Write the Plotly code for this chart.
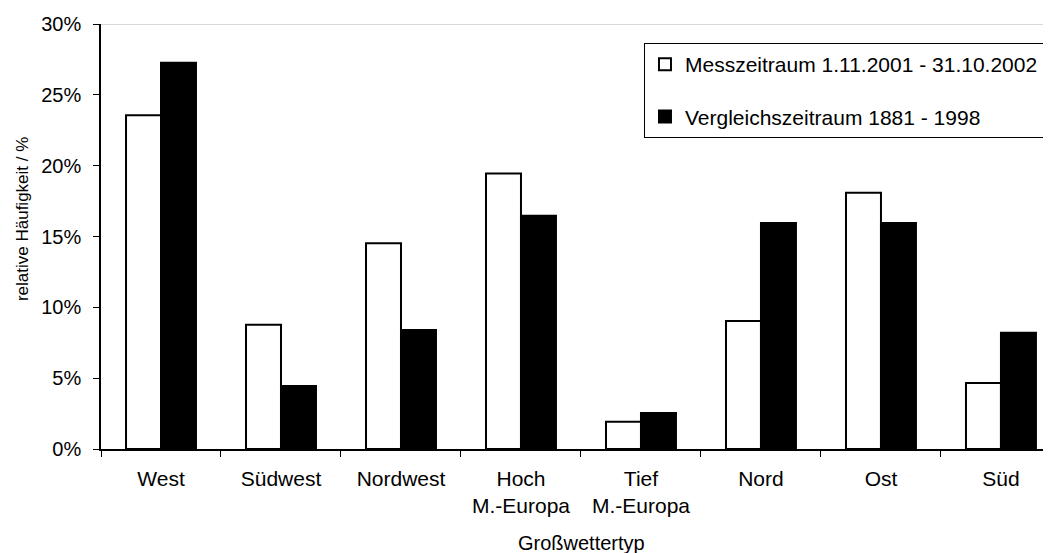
import plotly.graph_objects as go

categories = ["West", "Südwest", "Nordwest", "Hoch<br>M.-Europa", "Tief<br>M.-Europa", "Nord", "Ost", "Süd"]
mess_2001_2002 = [23.56, 8.77, 14.52, 19.45, 1.92, 9.04, 18.08, 4.66]
vergleich_1881_1998 = [27.27, 4.45, 8.40, 16.46, 2.54, 15.96, 15.96, 8.21]
y_ticks = [0, 5, 10, 15, 20, 25, 30]
y_tick_labels = [f"{v}%" for v in y_ticks]

FONT = "Liberation Sans, Arial, sans-serif"

fig = go.Figure()
fig.add_trace(go.Bar(
    x=categories, y=mess_2001_2002,
    name="Messzeitraum 1.11.2001 - 31.10.2002",
    marker=dict(color="white", line=dict(color="black", width=2)),
    legendgroup="a",
))
fig.add_trace(go.Bar(
    x=categories, y=vergleich_1881_1998,
    name="Vergleichszeitraum 1881 - 1998",
    marker=dict(color="black", line=dict(color="black", width=2)),
    legendgroup="b",
))

# grey top frame line of the plot area
fig.add_shape(type="line", xref="paper", yref="y", x0=0, x1=1, y0=30, y1=30,
              line=dict(color="#808080", width=2))

# axis titles as annotations so they sit where the original has them
fig.add_annotation(text="relative Häufigkeit / %", textangle=-90,
                   xref="paper", yref="paper", x=0, y=0.541, xshift=-79,
                   xanchor="center", yanchor="middle", showarrow=False,
                   font=dict(size=17))
fig.add_annotation(text="Großwettertyp",
                   xref="paper", yref="paper", x=0.5053, y=0, yshift=-94,
                   xanchor="center", yanchor="middle", showarrow=False,
                   font=dict(size=20))

# page body has an 8px margin, so the figure is shifted 8px right/down
fig.update_layout(
    width=1043, height=545,
    template="simple_white",
    plot_bgcolor="white", paper_bgcolor="white",
    font=dict(family=FONT, size=20, color="black"),
    margin=dict(l=93, r=0, t=16, b=104),
    barmode="group", bargap=0.417, bargroupgap=0,
    showlegend=True,
    legend=dict(
        x=0.9926, xanchor="right", y=0.955, yanchor="top",
        bordercolor="black", borderwidth=1, bgcolor="white",
        font=dict(size=21), tracegroupgap=22,
    ),
    xaxis=dict(
        type="category", range=[-0.5, 7.417], automargin=False,
        showline=True, linecolor="black", linewidth=1.5,
        ticks="outside", tickson="boundaries", ticklen=6, tickcolor="black",
        showgrid=False, tickfont=dict(size=21), ticklabelstandoff=10,
    ),
    yaxis=dict(
        range=[0, 30], tickvals=y_ticks, ticktext=y_tick_labels, automargin=False,
        showline=True, linecolor="black", linewidth=1.5,
        ticks="outside", ticklen=6, tickcolor="black",
        showgrid=False, zeroline=False, tickfont=dict(size=20), ticklabelstandoff=8,
    ),
)

fig.write_html("out.html")
